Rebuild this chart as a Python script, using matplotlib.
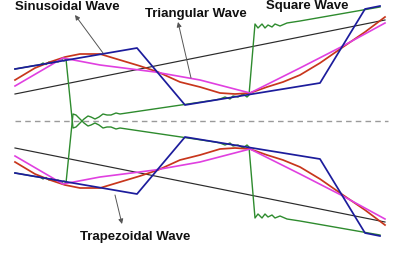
import matplotlib
matplotlib.use("Agg")
import matplotlib.pyplot as plt
import numpy as np

# ---- data: time axis (x) and signal level (positive = upper trace, relative to centre line) ----
ramp_x = [15, 385]
ramp_y = [27, 101]

trap_x = [15, 137, 185, 320, 365, 380]
trap_y = [52, 73, 16, 38, 112, 115]

sine_x = [15, 25, 35, 50, 65, 80, 100, 120, 140, 158, 180, 200, 220, 235, 250, 267, 283, 300, 320, 343, 365, 385]
sine_y = [41, 47, 53, 59, 64, 67, 67, 61, 55, 49, 39, 34, 28, 27, 28, 34, 39, 46, 58, 74, 89, 104]

tri_x = [15, 63, 100, 155, 200, 250, 300, 341, 385]
tri_y = [35, 63, 56, 49, 41, 28, 53, 74, 98]

square_x = [15, 35, 40, 43, 46, 49, 52, 55, 58, 61, 64, 66,
            73, 76, 80, 84, 88, 91, 95, 99, 103, 107, 111, 116, 120,
            215, 220, 225, 230, 233, 238, 243, 247, 249,
            255, 258, 262, 265, 268, 272, 275, 280, 287, 300, 380]
square_y = [52, 55.5, 56, 58, 56.5, 59, 57.5, 60, 59, 62, 60, 62,
            -7, -6, -2, 2, 5, 4, 2, 4, 7, 6, 6, 8, 7,
            21, 22, 24, 22, 25, 24, 27, 24, 26,
            97, 93, 97, 93, 96, 94, 97, 95, 98, 100, 114]

labels = ["Sinusoidal Wave", "Triangular Wave", "Square Wave", "Trapezoidal Wave"]
label_pos = [(15, 111), (145, 104.5), (266, 111.5), (80, -119)]
arrow_head = [(75, 106), (178, 99), None, (122, -103)]
arrow_tail = [(103, 68), (191, 43), None, (115, -74)]

center_x = [15, 388]

# ---- drawing ----
fig = plt.figure(figsize=(3.98, 2.64), dpi=100)
ax = fig.add_axes([0, 0, 1, 1])
ax.set_xlim(0, 398)
ax.set_ylim(-143, 121)
ax.axis("off")

ax.plot(center_x, [0, 0], color="#9a9a9a", lw=1.0, dashes=(4, 3))

series = [
    (ramp_x, ramp_y, "#2a2a2a", 0.85),
    (square_x, square_y, "#2e8b2e", 1.0),
    (sine_x, sine_y, "#c8361c", 1.25),
    (tri_x, tri_y, "#e040e0", 1.2),
    (trap_x, trap_y, "#1c1c9c", 1.25),
]
for xs, ys, col, lw in series:
    ys = np.asarray(ys, dtype=float)
    ax.plot(xs, ys, color=col, lw=lw, solid_joinstyle="round")
    ax.plot(xs, -ys, color=col, lw=lw, solid_joinstyle="round")

for text, pos, head, tail in zip(labels, label_pos, arrow_head, arrow_tail):
    ax.text(pos[0], pos[1], text, ha="left", va="baseline",
            family="Liberation Sans", fontweight="bold", fontsize=9.5, color="#111111")
    if head is not None:
        ax.annotate("", xy=head, xytext=tail,
                    arrowprops=dict(arrowstyle="-|>", color="#555555", lw=0.7,
                                    mutation_scale=7, shrinkA=0, shrinkB=0))

fig.savefig("out.png", dpi=100)
